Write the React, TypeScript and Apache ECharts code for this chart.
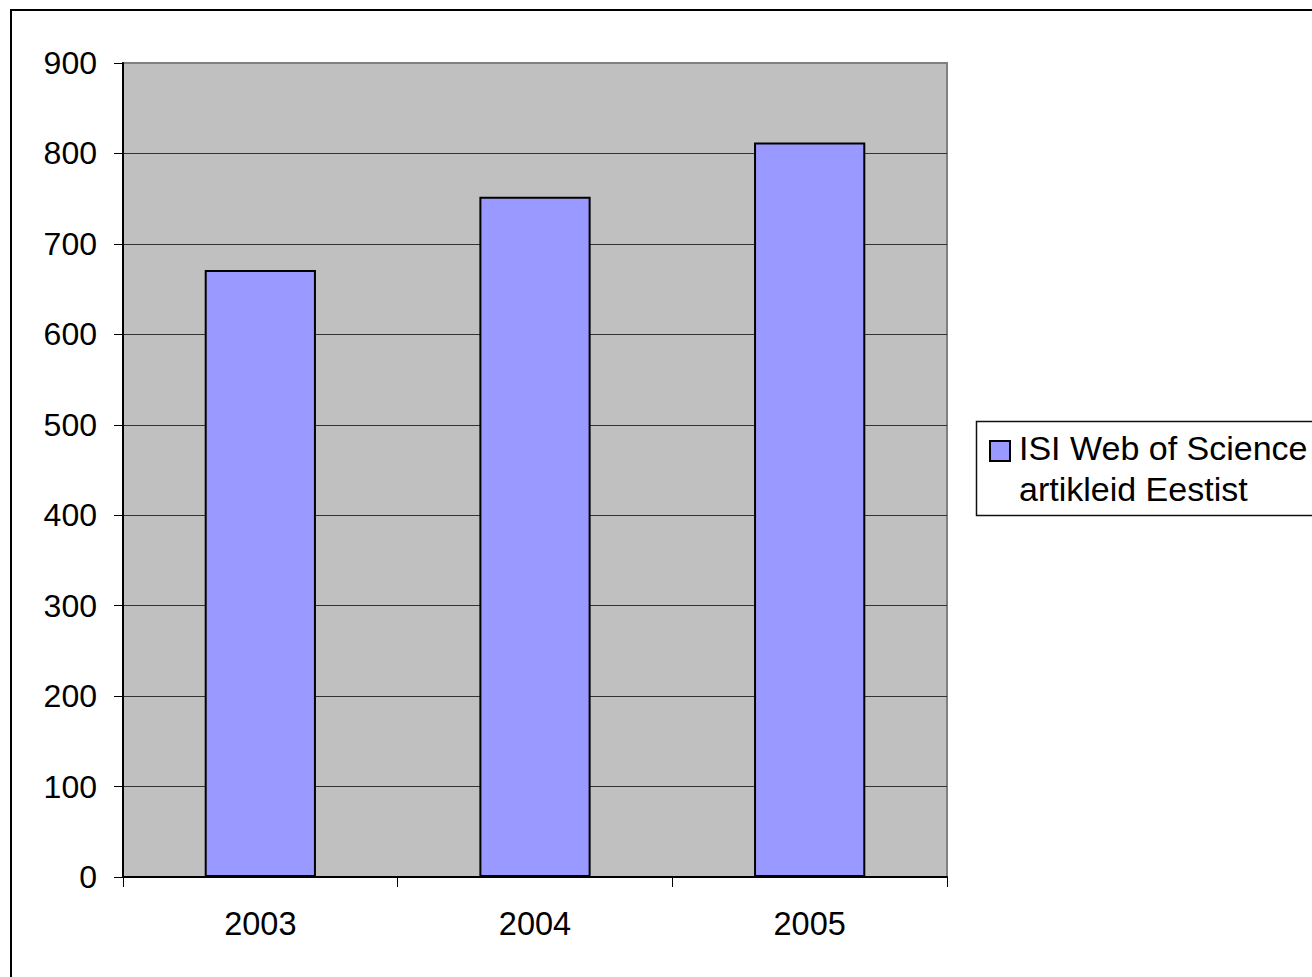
import React, { useEffect, useRef } from "react";
import * as echarts from "echarts";

const categories = ["2003", "2004", "2005"];
const seriesName = "ISI Web of Science\nartikleid Eestist";
const values = [671, 752, 812];
const yTicks = { min: 0, max: 900, interval: 100 };

export default function App() {
  const ref = useRef<HTMLDivElement>(null);
  useEffect(() => {
    if (!ref.current) return;
    const chart = echarts.init(ref.current, undefined, { renderer: "svg" });
    const font = "'Liberation Sans', Arial, Helvetica, sans-serif";
    chart.setOption({
      animation: false,
      backgroundColor: "#ffffff",
      textStyle: { fontFamily: font },
      grid: {
        left: 123,
        top: 63,
        width: 824,
        height: 814,
        show: true,
        backgroundColor: "#C0C0C0",
        borderColor: "#808080",
        borderWidth: 2,
        containLabel: false,
      },
      legend: {
        show: true,
        orient: "vertical",
        left: 989,
        top: 427.5,
        padding: 0,
        selectedMode: false,
        icon: "path://M0,0h20v20h-20z M0,55",
        itemWidth: 20,
        itemHeight: 55,
        itemStyle: { color: "#9999FF", borderColor: "#000000", borderWidth: 2 },
        textStyle: {
          fontSize: 34,
          fontFamily: font,
          color: "#000000",
          lineHeight: 41,
          padding: [0, 0, 0, 4],
        },
        data: [seriesName],
      },
      xAxis: {
        type: "category",
        data: categories,
        axisLine: { show: true, lineStyle: { color: "#000000", width: 2 } },
        axisTick: { show: true, length: 10, alignWithLabel: false, lineStyle: { color: "#000000", width: 1 } },
        axisLabel: { fontSize: 32.5, color: "#000000", fontFamily: font, margin: 30 },
        splitLine: { show: false },
      },
      yAxis: {
        type: "value",
        min: yTicks.min,
        max: yTicks.max,
        interval: yTicks.interval,
        axisLine: { show: true, lineStyle: { color: "#000000", width: 2 } },
        axisTick: { show: true, length: 9, lineStyle: { color: "#000000", width: 1 } },
        axisLabel: { fontSize: 32, color: "#000000", fontFamily: font, margin: 26 },
        splitLine: { show: true, showMaxLine: false, showMinLine: false, lineStyle: { color: "#333333", width: 1 } },
      },
      graphic: [
        {
          type: "rect",
          shape: { x: 11, y: 10, width: 1400, height: 1100 },
          style: { fill: "none", stroke: "#000000", lineWidth: 2 },
          silent: true,
        },
        {
          type: "rect",
          shape: { x: 976.5, y: 421.5, width: 400, height: 94 },
          style: { fill: "none", stroke: "#111111", lineWidth: 1.5 },
          silent: true,
        },
      ],
      series: [
        {
          type: "bar",
          name: seriesName,
          data: values,
          barWidth: "40.5%",
          itemStyle: { color: "#9999FF", borderColor: "#000000", borderWidth: 2 },
        },
      ],
    });
    return () => chart.dispose();
  }, []);
  return (
    <div
      ref={ref}
      style={{ position: "fixed", left: 0, top: 0, width: 1312, height: 977, background: "#fff" }}
    />
  );
}
